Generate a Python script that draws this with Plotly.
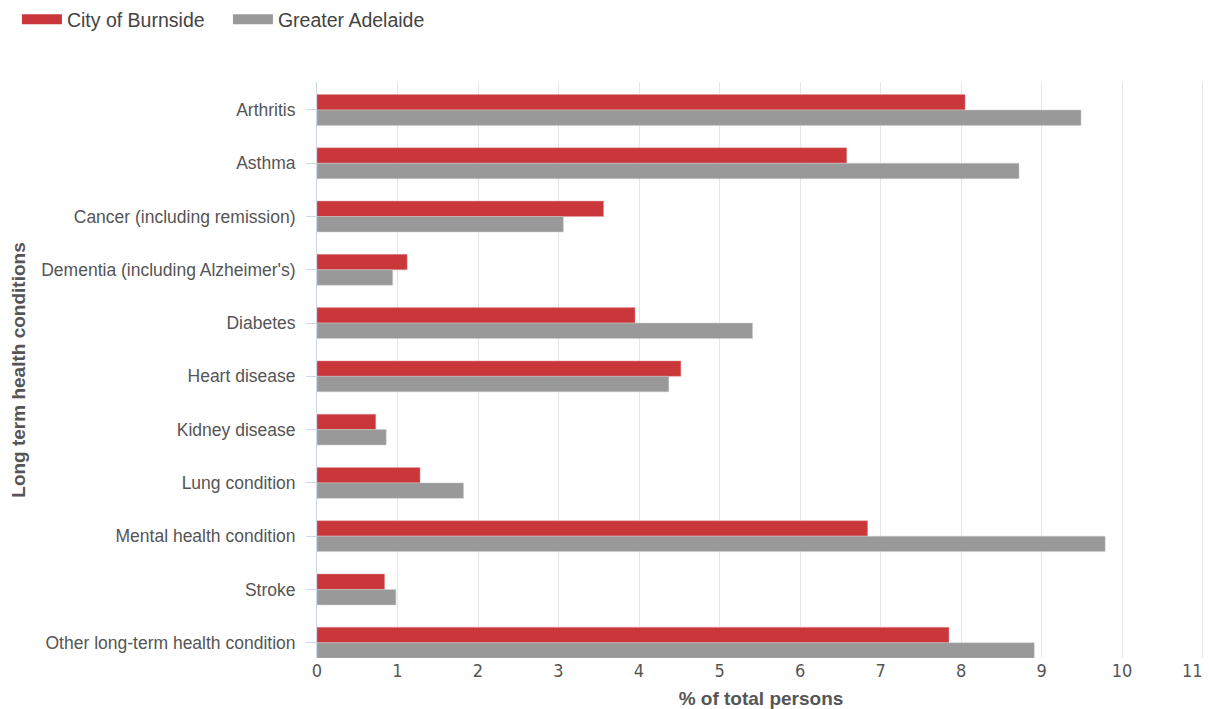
import plotly.graph_objects as go

categories = ["Arthritis", "Asthma", "Cancer (including remission)", "Dementia (including Alzheimer's)",
              "Diabetes", "Heart disease", "Kidney disease", "Lung condition",
              "Mental health condition", "Stroke", "Other long-term health condition"]
burnside = [8.05, 6.58, 3.56, 1.12, 3.95, 4.52, 0.73, 1.28, 6.84, 0.84, 7.85]
adelaide = [9.49, 8.72, 3.06, 0.94, 5.41, 4.37, 0.86, 1.82, 9.79, 0.98, 8.91]
x_ticks = list(range(0, 12))
x_ticktext_main = [str(v) for v in x_ticks[:-1]] + [""]
x_last_tick = [x_ticks[-1]]
x_last_text = [str(x_ticks[-1])]

series_names = ["City of Burnside", "Greater Adelaide"]
series_colors = ["#c9373a", "#999999"]
edge_colors = ["#e0a0a0", "#cccccc"]

font_family = "Liberation Sans, Arial, sans-serif"
narrow_family = "Liberation Sans Narrow, DejaVu Sans Condensed, Arial Narrow, sans-serif"
text_color = "#555555"
x_range = [0, 11.03]

fig = go.Figure()
for vals, name, col, edge in zip([burnside, adelaide], series_names, series_colors, edge_colors):
    fig.add_trace(go.Bar(y=categories, x=vals, orientation="h", name=name, legendgroup=name,
                         showlegend=False,
                         marker=dict(color=col, line=dict(color=edge, width=0.5))))
# legend swatches (wide rectangles like the reference)
for i, (name, col) in enumerate(zip(series_names, series_colors)):
    fig.add_trace(go.Scatter(x=[None], y=[None], mode="lines", name=name, legendgroup=name,
                             xaxis="x2" if i == 1 else "x",
                             line=dict(color=col, width=17), hoverinfo="skip"))

tickfont = dict(size=18, color=text_color, family=narrow_family)

fig.update_layout(
    width=1209, height=709,
    paper_bgcolor="white", plot_bgcolor="white",
    margin=dict(l=317, r=4, t=82, b=51, autoexpand=False),
    barmode="group", bargap=0.42, bargroupgap=0,
    font=dict(family=font_family, color=text_color, size=17),
    showlegend=True,
    legend=dict(orientation="h", xref="container", yref="container", x=0.014, y=1.0,
                xanchor="left", yanchor="top",
                font=dict(size=19.5, color="#444444"), itemwidth=40, entrywidth=156,
                traceorder="normal", tracegroupgap=0),
    xaxis=dict(range=x_range, tickvals=x_ticks, ticktext=x_ticktext_main, showgrid=True,
               gridcolor="#e6e6e6", gridwidth=1, automargin=False,
               zeroline=False, showline=False, ticks="",
               tickfont=tickfont,
               title=dict(text="<b>% of total persons</b>", font=dict(size=19, color=text_color), standoff=16)),
    xaxis2=dict(range=x_range, overlaying="x", anchor="y", side="bottom", tickvals=x_last_tick,
                ticktext=x_last_text, ticklabelposition="outside left", showgrid=False,
                zeroline=False, showline=False, ticks="", automargin=False, tickfont=tickfont),
    yaxis=dict(categoryorder="array", categoryarray=categories, range=[10.287, -0.525],
               showline=True, linecolor="#ccd6eb", linewidth=1, ticks="outside", ticklen=10,
               tickcolor="#ccd6eb", showgrid=False, ticklabelstandoff=7, automargin=False,
               tickfont=dict(size=17.5, color=text_color),
               title=dict(text="<b>Long term health conditions</b>", font=dict(size=19, color=text_color), standoff=10)),
)

fig.write_html("out.html", post_script="document.body.style.margin='0';",
               config={"displayModeBar": False})
